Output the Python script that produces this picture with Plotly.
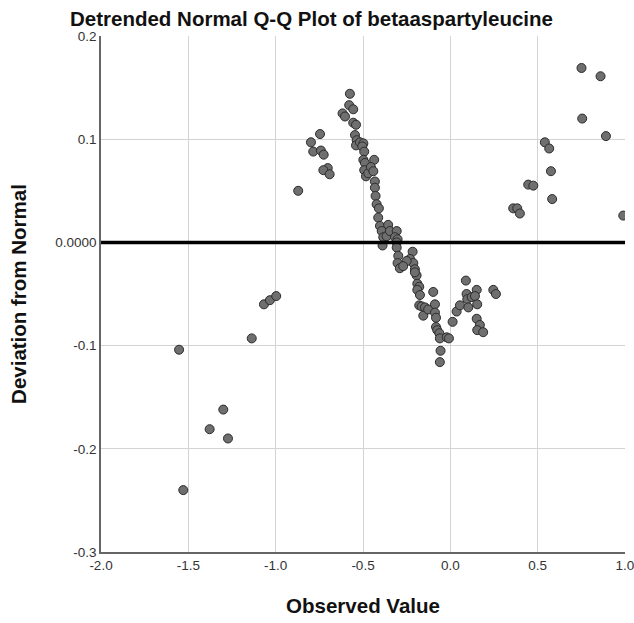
import plotly.graph_objects as go

x_obs = [-1.553, -1.529, -1.300, -1.378, -1.273, -1.137, -1.067, -1.033, -0.997,
         -0.871, -0.798, -0.785, -0.746, -0.741, -0.725, -0.702, -0.727, -0.691,
         -0.617, -0.603, -0.575, -0.579, -0.556, -0.556, -0.540, -0.546, -0.536,
         -0.540, -0.517, -0.498, -0.504, -0.493, -0.498, -0.489, -0.436, -0.493,
         -0.483, -0.470, -0.455, -0.441, -0.432, -0.432, -0.428, -0.422, -0.409,
         -0.413, -0.403, -0.356, -0.393, -0.384, -0.388, -0.365, -0.346, -0.307,
         -0.317, -0.302, -0.307, -0.307, -0.298, -0.302, -0.289, -0.216, -0.231,
         -0.212, -0.250, -0.270, -0.203, -0.193, -0.203, -0.189, -0.178, -0.189,
         -0.174, -0.098, -0.178, -0.164, -0.145, -0.155, -0.127, -0.088, -0.088,
         -0.082, -0.082, -0.075, -0.063, -0.060, -0.021, -0.008, -0.056, -0.060,
         0.013, 0.036, 0.055, 0.089, 0.093, 0.097, 0.103, 0.122, 0.151, 0.141,
         0.154, 0.151, 0.169, 0.154, 0.188, 0.246, 0.261, 0.360, 0.383, 0.398,
         0.446, 0.475, 0.541, 0.566, 0.576, 0.583, 0.751, 0.860, 0.755, 0.891, 0.990]
y_dev = [-0.104, -0.240, -0.162, -0.181, -0.190, -0.093, -0.060, -0.056, -0.052,
         0.050, 0.097, 0.088, 0.105, 0.089, 0.085, 0.072, 0.070, 0.066,
         0.125, 0.122, 0.144, 0.133, 0.129, 0.116, 0.114, 0.104, 0.099,
         0.094, 0.097, 0.096, 0.093, 0.088, 0.080, 0.077, 0.080, 0.070,
         0.064, 0.067, 0.073, 0.069, 0.059, 0.053, 0.045, 0.037, 0.033,
         0.024, 0.016, 0.017, 0.011, 0.005, -0.003, 0.006, 0.011, 0.011,
         0.005, 0.003, 0.000, -0.005, -0.013, -0.020, -0.025, -0.009, -0.016,
         -0.020, -0.018, -0.023, -0.026, -0.032, -0.029, -0.040, -0.043, -0.046,
         -0.051, -0.048, -0.061, -0.062, -0.063, -0.071, -0.065, -0.060, -0.068,
         -0.073, -0.082, -0.085, -0.088, -0.093, -0.092, -0.093, -0.105, -0.116,
         -0.077, -0.067, -0.061, -0.037, -0.050, -0.055, -0.063, -0.053, -0.046, -0.052,
         -0.060, -0.074, -0.080, -0.085, -0.087, -0.046, -0.050, 0.033, 0.033, 0.028,
         0.056, 0.055, 0.097, 0.091, 0.069, 0.042, 0.169, 0.161, 0.120, 0.103, 0.026]

x_ticks = [-2.0, -1.5, -1.0, -0.5, 0.0, 0.5, 1.0]
x_ticktext = ["-2.0", "-1.5", "-1.0", "-0.5", "0.0", "0.5", "1.0"]
y_ticks = [0.2, 0.1, 0.0, -0.1, -0.2, -0.3]
y_ticktext = ["0.2", "0.1", "0.0000", "-0.1", "-0.2", "-0.3"]

font = "Liberation Sans, Arial, sans-serif"

W, H = 634, 623

fig = go.Figure()
fig.add_scatter(x=x_obs, y=y_dev, mode="markers",
                marker=dict(size=9, color="#6f6f6f",
                            line=dict(color="#2b2b2b", width=1)))

# reference line at zero
fig.add_shape(type="line", xref="paper", x0=0, x1=1, yref="y", y0=0, y1=0,
              line=dict(color="black", width=3.5))

fig.update_layout(
    width=W, height=H,
    margin=dict(l=101, r=9, t=36, b=67),
    plot_bgcolor="white", paper_bgcolor="white",
    showlegend=False,
    font=dict(family=font, color="#333333", size=13.5),
    title=dict(text="<b>Detrended Normal Q-Q Plot of betaaspartyleucine</b>",
               x=70 / W, xanchor="left", y=1 - 12 / H, yanchor="top",
               pad=dict(t=0, b=0, l=0, r=0),
               font=dict(size=20.5, color="#111111")),
)
fig.update_xaxes(range=[-2.0, 1.0], tickvals=x_ticks, ticktext=x_ticktext,
                 showgrid=True, gridcolor="#d3d3d3", gridwidth=1,
                 showline=True, linecolor="#666666", linewidth=1.5,
                 zeroline=False, ticks="", tickfont=dict(size=13.5),
                 ticklabeloverflow="allow", automargin="bottom",
                 title=dict(text="<b>Observed Value</b>", standoff=27,
                            font=dict(size=20.5, color="#111111")))
fig.update_yaxes(range=[-0.3, 0.2], tickvals=y_ticks, ticktext=y_ticktext,
                 showgrid=True, gridcolor="#d3d3d3", gridwidth=1,
                 showline=True, linecolor="#666666", linewidth=1.5,
                 zeroline=False, ticks="", tickfont=dict(size=13.5),
                 automargin="left",
                 title=dict(text="<b>Deviation from Normal</b>", standoff=23,
                            font=dict(size=20.5, color="#111111")))

# drop the default page margin so the figure fills the window exactly
fig.write_html("out.html", config={"displayModeBar": False},
               post_script="document.body.style.margin = '0';")
